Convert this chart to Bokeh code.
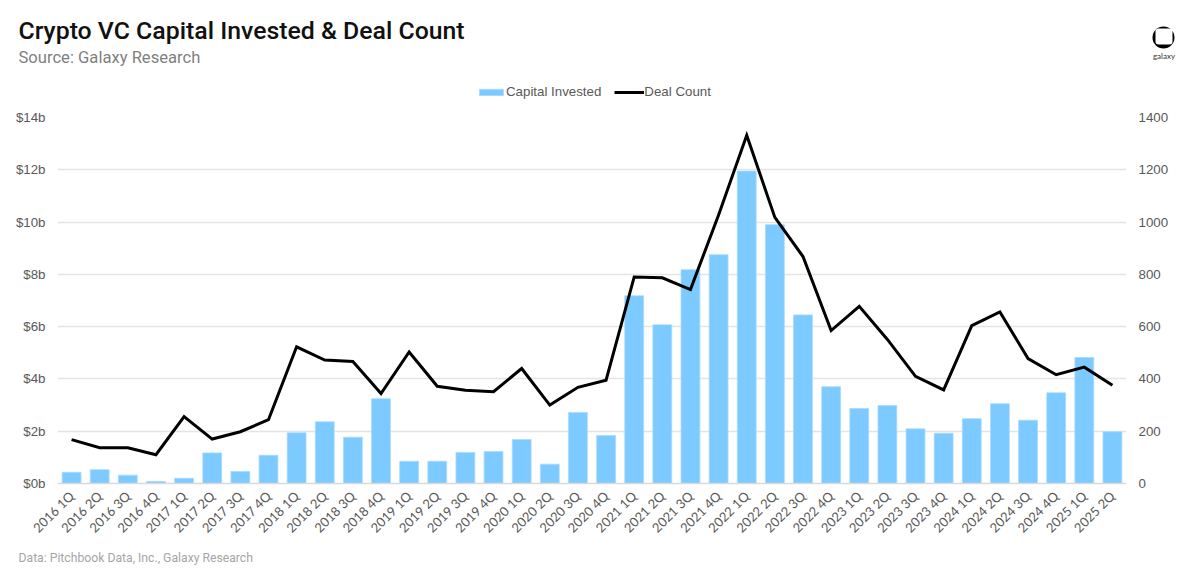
from bokeh.plotting import figure
from bokeh.layouts import column
from bokeh.models import (Range1d, LinearAxis, FactorRange, Label, Legend, LegendItem,
                          BoxAnnotation, FixedTicker, CustomJSTickFormatter)
from bokeh.embed import file_html
from bokeh.resources import INLINE

quarters = ["2016 1Q","2016 2Q","2016 3Q","2016 4Q","2017 1Q","2017 2Q","2017 3Q","2017 4Q",
            "2018 1Q","2018 2Q","2018 3Q","2018 4Q","2019 1Q","2019 2Q","2019 3Q","2019 4Q",
            "2020 1Q","2020 2Q","2020 3Q","2020 4Q","2021 1Q","2021 2Q","2021 3Q","2021 4Q",
            "2022 1Q","2022 2Q","2022 3Q","2022 4Q","2023 1Q","2023 2Q","2023 3Q","2023 4Q",
            "2024 1Q","2024 2Q","2024 3Q","2024 4Q","2025 1Q","2025 2Q"]
capital_invested = [0.43,0.53,0.32,0.08,0.20,1.17,0.46,1.08,
                    1.94,2.36,1.77,3.24,0.85,0.85,1.19,1.22,
                    1.68,0.74,2.72,1.84,7.18,6.07,8.18,8.75,
                    11.95,9.90,6.45,3.70,2.87,2.98,2.09,1.92,
                    2.48,3.05,2.42,3.47,4.82,1.98]
deal_count = [168,137,137,110,256,170,198,244,
              523,472,467,344,503,372,357,351,
              440,300,368,395,790,787,742,1027,
              1332,1018,868,585,678,551,410,358,
              604,656,478,416,445,376]
left_ticks = [0,2,4,6,8,10,12,14]
right_ticks = [0,200,400,600,800,1000,1200,1400]

GREY = "#595959"
AXFONT = "Liberation Sans"
BAR_FILL, BAR_EDGE = "#7CCAFF", "#A6DBFF"
W = 1184
HEADER_H, FOOTER_H = 100, 24
FL = 57
NAN = float("nan")

def blank(height, top, bottom):
    f = figure(width=W, height=height, output_backend="svg", toolbar_location=None,
               x_range=Range1d(0, W), y_range=Range1d(bottom, top),
               x_axis_type=None, y_axis_type=None, frame_align=False,
               min_border=0)
    f.outline_line_color = None
    f.xgrid.visible = False
    f.ygrid.visible = False
    return f

def text(f, s, x, y, size, color, font, style="normal", align="left"):
    f.add_layout(Label(x=x, y=y, text=s, text_font=font, text_font_size=size,
                       text_color=color, text_font_style=style,
                       text_align=align, text_baseline="middle"))

def box(f, x0, x1, y0, y1, color, radius):
    f.add_layout(BoxAnnotation(left=x0, right=x1, top=y0, bottom=y1,
                               fill_color=color, fill_alpha=1, line_color=None,
                               border_radius=radius))

header = blank(HEADER_H, 0, HEADER_H)
text(header, "Crypto VC Capital Invested & Deal Count", 18, 30, "24.8px", "#111111", "Roboto Medium")
text(header, "Source: Galaxy Research", 18, 57, "16.6px", "#7F7F7F", "Roboto")
text(header, "galaxy", 1163.5, 55, "8px", "#333333", "Lato", align="center")
box(header, 1152, 1174, 26, 48, "black", 11)
box(header, 1155, 1172, 28, 44, "white", 3)

legend_bar = header.vbar(x=[NAN], top=[NAN], fill_color=BAR_FILL, line_color=BAR_EDGE, line_width=0.8)
legend_line = header.line(x=[NAN], y=[NAN], line_color="black", line_width=3)
legend = Legend(items=[LegendItem(label="Capital Invested", renderers=[legend_bar]),
                       LegendItem(label="Deal Count", renderers=[legend_line])],
                orientation="horizontal", location=(476, 1), margin=0, padding=0,
                border_line_color=None, background_fill_alpha=0,
                glyph_width=30, glyph_height=8, label_standoff=0, spacing=13,
                label_text_font=AXFONT, label_text_font_size="13.3px",
                label_text_color=GREY)
header.add_layout(legend, "center")

p = figure(width=W, height=446, output_backend="svg", toolbar_location=None,
           x_range=FactorRange(factors=quarters, range_padding=0),
           y_range=Range1d(0, 14), frame_align=False,
           frame_width=1069, frame_height=366,
           min_border_left=FL, min_border_right=58, min_border_top=17, min_border_bottom=63)
p.extra_y_ranges = {"deals": Range1d(0, 1400)}
p.outline_line_color = None
p.background_fill_color = "white"

bars = p.vbar(x=quarters, top=capital_invested, width=0.67, fill_color=BAR_FILL,
              line_color=BAR_EDGE, line_width=0.8)
line = p.line(x=quarters, y=deal_count, y_range_name="deals", line_color="black",
              line_width=3, line_join="miter")

p.xgrid.visible = False
p.ygrid.grid_line_color = "#E4E4E4"
p.ygrid.grid_line_width = 1.3
p.ygrid.ticker = FixedTicker(ticks=left_ticks)

ax = p.yaxis[0]
ax.ticker = FixedTicker(ticks=left_ticks)
ax.formatter = CustomJSTickFormatter(code="return '$' + tick + 'b';")
ax.axis_line_color = None
ax.major_tick_line_color = None
ax.minor_tick_line_color = None
ax.major_label_text_font = AXFONT
ax.major_label_text_font_size = "13.3px"
ax.major_label_text_color = GREY
ax.major_label_standoff = 6

rax = LinearAxis(y_range_name="deals", ticker=FixedTicker(ticks=right_ticks))
rax.axis_line_color = None
rax.major_tick_line_color = None
rax.minor_tick_line_color = None
rax.major_label_text_font = AXFONT
rax.major_label_text_font_size = "13.3px"
rax.major_label_text_color = GREY
rax.major_label_standoff = 6
p.add_layout(rax, "right")

xax = p.xaxis[0]
xax.axis_line_color = "#D9D9D9"
xax.axis_line_width = 1.3
xax.major_tick_line_color = None
xax.minor_tick_line_color = None
xax.major_label_orientation = 0.785
xax.major_label_text_font = "Lato"
xax.major_label_text_font_size = "13px"
xax.major_label_text_color = GREY
xax.major_label_standoff = 4

footer = blank(FOOTER_H, 546, 546 + FOOTER_H)
text(footer, "Data: Pitchbook Data, Inc., Galaxy Research", 18, 557.5, "12.2px", "#A6A6A6", "Roboto")

open("out.html", "w").write(file_html(column(header, p, footer, spacing=0), INLINE))
